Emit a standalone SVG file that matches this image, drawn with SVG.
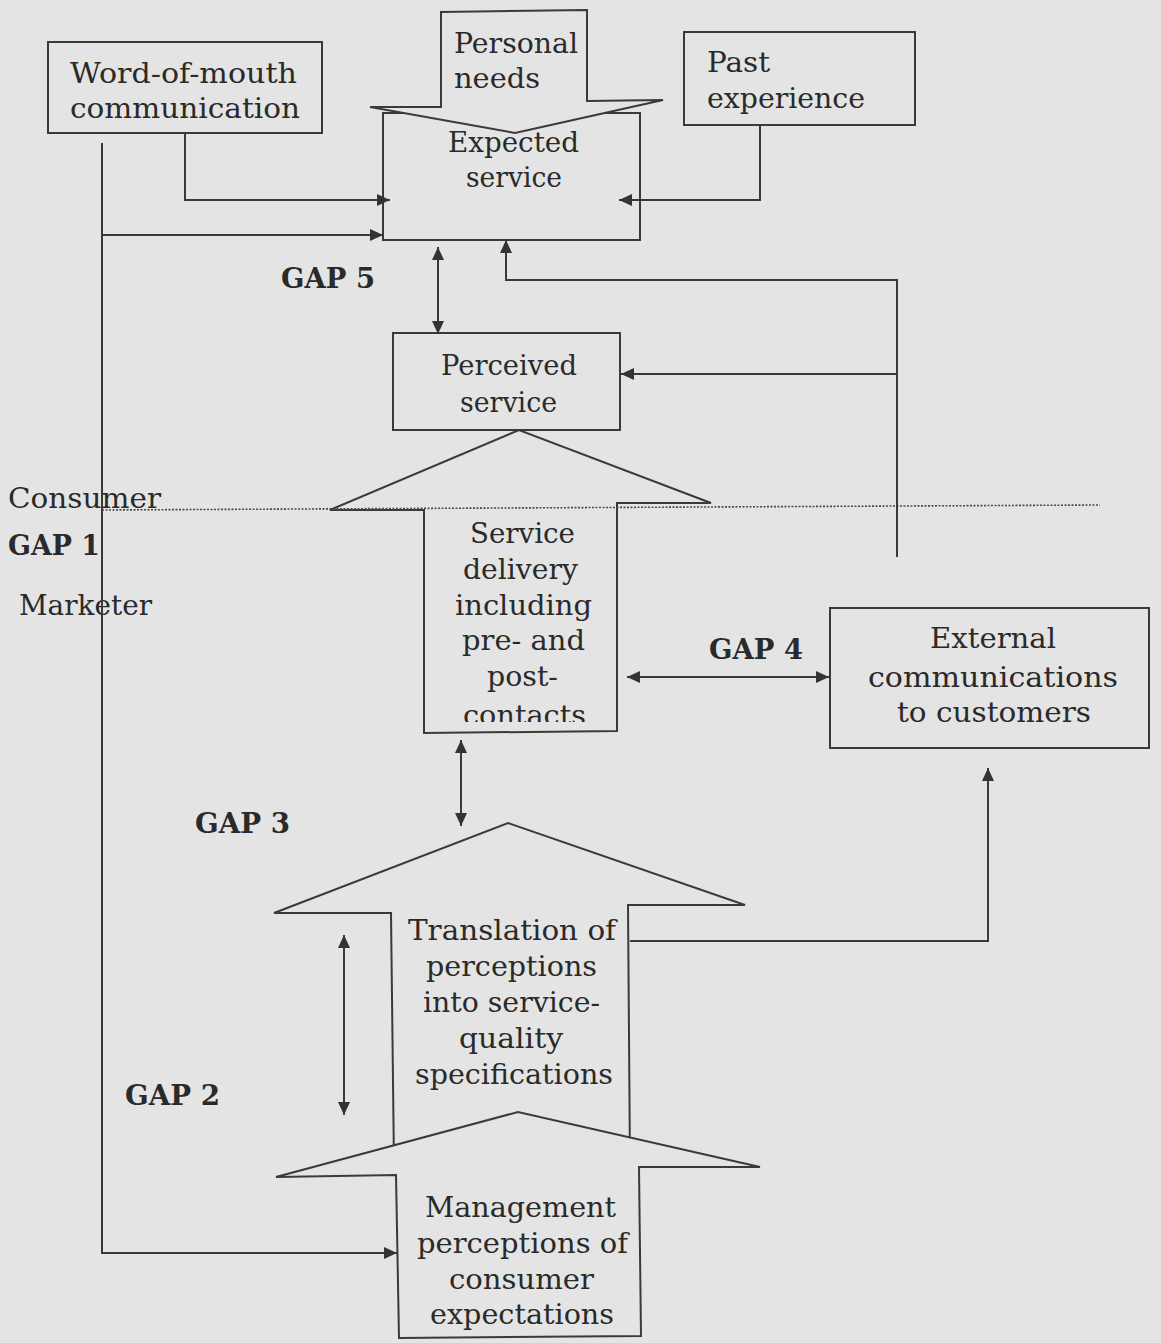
<svg xmlns="http://www.w3.org/2000/svg" width="1161" height="1343" viewBox="0 0 1161 1343">
<style>
.bg{fill:#e4e4e4}
.shape{fill:#e4e4e4;stroke:#3a3a3a;stroke-width:2;stroke-linejoin:miter}
.line{fill:none;stroke:#3a3a3a;stroke-width:2}
.dot{fill:none;stroke:#4a4a4a;stroke-width:1.6;stroke-dasharray:2 1.5}
.t{font-family:"DejaVu Serif","Liberation Serif",serif;font-size:28px;fill:#2a2a2a}
.g{font-family:"DejaVu Serif","Liberation Serif",serif;font-size:27px;font-weight:bold;fill:#2a2a2a}
</style>
<defs>
<marker id="ah" viewBox="0 0 13 12" refX="13" refY="6" markerWidth="13" markerHeight="12" markerUnits="userSpaceOnUse" orient="auto-start-reverse">
<path d="M0,0 L13,6 L0,12 Z" fill="#333333"/>
</marker>
<clipPath id="clipSD"><rect x="400" y="420" width="300" height="302"/></clipPath>
</defs>
<rect class="bg" x="0" y="0" width="1161" height="1343"/>

<g id="word-of-mouth">
<rect class="shape" x="48" y="42" width="274" height="91"/>
<text class="t" x="70" y="83" textLength="227" lengthAdjust="spacingAndGlyphs">Word-of-mouth</text>
<text class="t" x="70" y="118" textLength="230" lengthAdjust="spacingAndGlyphs">communication</text>
</g>

<g id="expected-service">
<rect class="shape" x="383" y="113" width="257" height="127"/>
<text class="t" x="448" y="152" textLength="131" lengthAdjust="spacingAndGlyphs">Expected</text>
<text class="t" x="466" y="187" textLength="96" lengthAdjust="spacingAndGlyphs">service</text>
</g>

<g id="personal-needs">
<polygon class="shape" points="441,12 587,10 587,101 663,100 515,133 370,107 441,107"/>
<text class="t" x="454" y="53" textLength="124" lengthAdjust="spacingAndGlyphs">Personal</text>
<text class="t" x="454" y="88" textLength="86" lengthAdjust="spacingAndGlyphs">needs</text>
</g>

<g id="past-experience">
<rect class="shape" x="684" y="32" width="231" height="93"/>
<text class="t" x="707" y="72" textLength="63" lengthAdjust="spacingAndGlyphs">Past</text>
<text class="t" x="707" y="108" textLength="158" lengthAdjust="spacingAndGlyphs">experience</text>
</g>

<g id="gap5"><text class="g" x="281" y="288" textLength="94" lengthAdjust="spacingAndGlyphs">GAP 5</text></g>

<g id="perceived-service">
<rect class="shape" x="393" y="333" width="227" height="97"/>
<text class="t" x="441" y="375" textLength="136" lengthAdjust="spacingAndGlyphs">Perceived</text>
<text class="t" x="460" y="412" textLength="97" lengthAdjust="spacingAndGlyphs">service</text>
</g>

<g id="consumer-marketer">
<text class="t" x="8" y="508" textLength="153" lengthAdjust="spacingAndGlyphs">Consumer</text>
<text class="g" x="8" y="555" textLength="92" lengthAdjust="spacingAndGlyphs">GAP 1</text>
<text class="t" x="19" y="615" textLength="133" lengthAdjust="spacingAndGlyphs">Marketer</text>
</g>

<g id="service-delivery">
<polygon class="shape" points="424,733 424,510 330,510 519,430 711,503 617,503 617,731"/>
<g clip-path="url(#clipSD)">
<text class="t" x="470" y="543" textLength="105" lengthAdjust="spacingAndGlyphs">Service</text>
<text class="t" x="463" y="579" textLength="115" lengthAdjust="spacingAndGlyphs">delivery</text>
<text class="t" x="455" y="615" textLength="137" lengthAdjust="spacingAndGlyphs">including</text>
<text class="t" x="462" y="650" textLength="123" lengthAdjust="spacingAndGlyphs">pre- and</text>
<text class="t" x="487" y="686" textLength="71" lengthAdjust="spacingAndGlyphs">post-</text>
<text class="t" x="463" y="725" textLength="123" lengthAdjust="spacingAndGlyphs">contacts</text>
</g>
</g>

<g id="gap4"><text class="g" x="709" y="659" textLength="94" lengthAdjust="spacingAndGlyphs">GAP 4</text></g>

<g id="external-communications">
<rect class="shape" x="830" y="608" width="319" height="140"/>
<text class="t" x="930" y="648" textLength="126" lengthAdjust="spacingAndGlyphs">External</text>
<text class="t" x="868" y="687" textLength="250" lengthAdjust="spacingAndGlyphs">communications</text>
<text class="t" x="897" y="722" textLength="194" lengthAdjust="spacingAndGlyphs">to customers</text>
</g>

<g id="gap3"><text class="g" x="195" y="833" textLength="95" lengthAdjust="spacingAndGlyphs">GAP 3</text></g>

<g id="translation">
<polygon class="shape" points="394,1165 391,913 274,913 508,823 745,905 628,905 630,1165"/>
<text class="t" x="408" y="940" textLength="208" lengthAdjust="spacingAndGlyphs">Translation of</text>
<text class="t" x="426" y="976" textLength="171" lengthAdjust="spacingAndGlyphs">perceptions</text>
<text class="t" x="423" y="1012" textLength="177" lengthAdjust="spacingAndGlyphs">into service-</text>
<text class="t" x="459" y="1048" textLength="104" lengthAdjust="spacingAndGlyphs">quality</text>
<text class="t" x="415" y="1084" textLength="198" lengthAdjust="spacingAndGlyphs">specifications</text>
</g>

<g id="gap2"><text class="g" x="125" y="1105" textLength="95" lengthAdjust="spacingAndGlyphs">GAP 2</text></g>

<g id="management-perceptions">
<polygon class="shape" points="399,1338 396,1175 276,1177 518,1112 760,1167 639,1167 641,1336"/>
<text class="t" x="425" y="1217" textLength="191" lengthAdjust="spacingAndGlyphs">Management</text>
<text class="t" x="417" y="1253" textLength="211" lengthAdjust="spacingAndGlyphs">perceptions of</text>
<text class="t" x="449" y="1289" textLength="145" lengthAdjust="spacingAndGlyphs">consumer</text>
<text class="t" x="430" y="1324" textLength="184" lengthAdjust="spacingAndGlyphs">expectations</text>
</g>

<g id="connectors">
<line class="dot" x1="102" y1="510" x2="1100" y2="505"/>
<path class="line" d="M185,133 V200 H390" marker-end="url(#ah)"/>
<path class="line" d="M102,143 V1253 H397" marker-end="url(#ah)"/>
<path class="line" d="M102,235 H383" marker-end="url(#ah)"/>
<path class="line" d="M760,126 V200 H619" marker-end="url(#ah)"/>
<path class="line" d="M438,247 V334" marker-start="url(#ah)" marker-end="url(#ah)"/>
<path class="line" d="M897,557 V280 H506 V240" marker-end="url(#ah)"/>
<path class="line" d="M897,374 H621" marker-end="url(#ah)"/>
<path class="line" d="M461,740 V826" marker-start="url(#ah)" marker-end="url(#ah)"/>
<path class="line" d="M627,677 H829" marker-start="url(#ah)" marker-end="url(#ah)"/>
<path class="line" d="M630,941 H988 V768" marker-end="url(#ah)"/>
<path class="line" d="M344,935 V1115" marker-start="url(#ah)" marker-end="url(#ah)"/>
</g>
</svg>
